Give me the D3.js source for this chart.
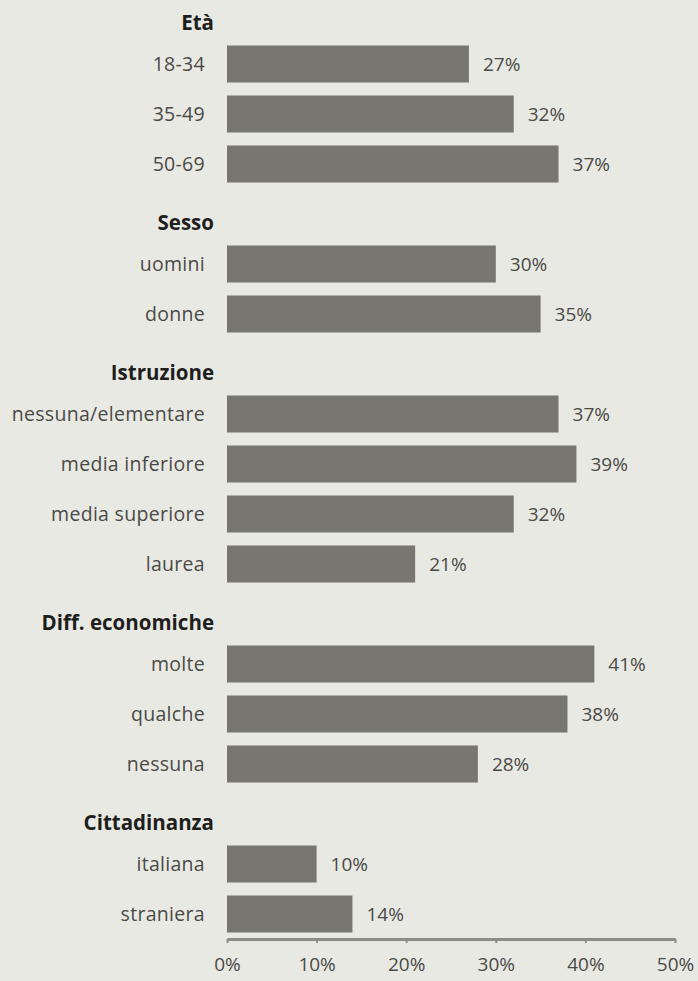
<!DOCTYPE html>
<html><head><meta charset="utf-8">
<script src="https://cdn.jsdelivr.net/npm/d3@7"></script>
<style>
html,body{margin:0;padding:0;background:#e9e9e4;}
svg{display:block;}
</style></head>
<body>
<script>
const groups = ["Età", "Sesso", "Istruzione", "Diff. economiche", "Cittadinanza"];
const categories = [
  ["18-34", "35-49", "50-69"],
  ["uomini", "donne"],
  ["nessuna/elementare", "media inferiore", "media superiore", "laurea"],
  ["molte", "qualche", "nessuna"],
  ["italiana", "straniera"]
];
const values = [
  [27, 32, 37],
  [30, 35],
  [37, 39, 32, 21],
  [41, 38, 28],
  [10, 14]
];
const tickValues = [0, 10, 20, 30, 40, 50];

const W = 698, H = 981;
const svg = d3.select("body").append("svg").attr("width", W).attr("height", H);
svg.append("rect").attr("width", W).attr("height", H).attr("fill", "#e9e9e4");

const rows = [];
groups.forEach((g, gi) => {
  rows.push({key: "h" + gi, type: "header", label: g});
  categories[gi].forEach((c, ci) => rows.push({key: gi + "_" + ci, type: "bar", label: c, value: values[gi][ci]}));
});

const y = d3.scaleBand().domain(rows.map(r => r.key)).range([-4.5, 932.5]).paddingInner(0.26).paddingOuter(0);
const x = d3.scaleLinear().domain([0, 50]).range([227, 675]);

const bars = rows.filter(r => r.type === "bar");
const headers = rows.filter(r => r.type === "header");

svg.append("g").selectAll("rect").data(bars).join("rect")
  .attr("x", x(0)).attr("y", d => y(d.key))
  .attr("width", d => x(d.value) - x(0)).attr("height", y.bandwidth())
  .attr("fill", "#77776f");

svg.append("g").selectAll("text").data(bars).join("text")
  .attr("x", 205).attr("y", d => y(d.key) + y.bandwidth() / 2)
  .attr("dy", "0.35em").attr("text-anchor", "end")
  .attr("font-family", "Open Sans, sans-serif").attr("font-size", 19.5)
  .attr("letter-spacing", 0.3)
  .attr("fill", "#4a4a46").text(d => d.label);

svg.append("g").selectAll("text").data(bars).join("text")
  .attr("x", d => x(d.value) + 14).attr("y", d => y(d.key) + y.bandwidth() / 2)
  .attr("dy", "0.35em").attr("text-anchor", "start")
  .attr("font-family", "Open Sans, sans-serif").attr("font-size", 19)
  .attr("fill", "#4a4a46").text(d => d.value + "%");

svg.append("g").selectAll("text").data(headers).join("text")
  .attr("x", 214).attr("y", d => y(d.key) + y.bandwidth() / 2 + 9)
  .attr("dy", "0.35em").attr("text-anchor", "end")
  .attr("font-family", "Open Sans, sans-serif").attr("font-size", 20.5).attr("font-weight", "bold")
  .attr("fill", "#1e1e1c").text(d => d.label);

const axis = d3.axisBottom(x).tickValues(tickValues).tickFormat(d => d + "%").tickSize(4).tickSizeOuter(0).tickPadding(15);
const ag = svg.append("g").attr("transform", "translate(0,939)").call(axis);
ag.select(".domain").attr("stroke", "#8c8c86").attr("stroke-width", 3);
ag.selectAll(".tick line").attr("stroke", "#8c8c86").attr("stroke-width", 2);
ag.selectAll(".tick text").attr("font-family", "Open Sans, sans-serif").attr("font-size", 19).attr("fill", "#4a4a46");
</script>
</body></html>
